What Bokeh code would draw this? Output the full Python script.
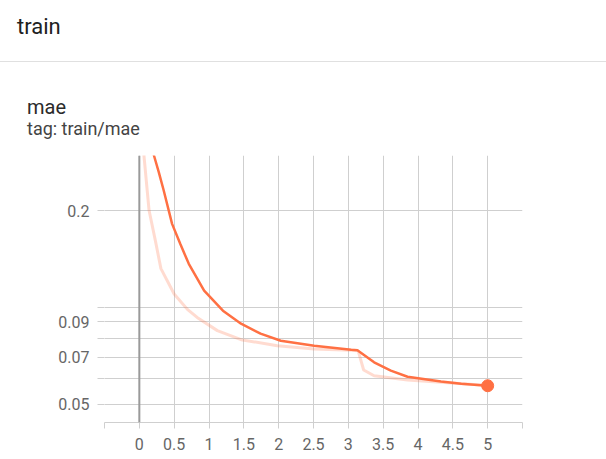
from bokeh.plotting import figure
from bokeh.models import Div, FixedTicker, Span, Range1d
from bokeh.layouts import column
from bokeh.embed import file_html
from bokeh.resources import INLINE

# ---- data ----
smooth_x = [0.15, 0.21, 0.28, 0.35, 0.47, 0.59, 0.71, 0.93, 1.20, 1.46, 1.74,
            2.03, 2.51, 3.04, 3.13, 3.37, 3.61, 3.85, 4.33, 4.62, 5.00]
smooth_y = [0.36, 0.2967, 0.263, 0.2309, 0.1818, 0.157, 0.1365, 0.1127, 0.0976,
            0.0889, 0.0828, 0.0787, 0.0759, 0.0738, 0.0735, 0.0674, 0.0635, 0.0608,
            0.0588, 0.0578, 0.0570]

raw_x = [0.05, 0.066, 0.14, 0.23, 0.31, 0.50, 0.69, 0.83, 1.12, 1.46, 1.98, 2.51,
         3.04, 3.14, 3.22, 3.37, 3.85, 4.33, 4.90, 5.00]
raw_y = [0.34, 0.2967, 0.2000, 0.1612, 0.1319, 0.1100, 0.0985, 0.0930, 0.0846,
         0.0793, 0.0759, 0.0742, 0.0735, 0.0733, 0.0638, 0.0612, 0.0594, 0.0584,
         0.0573, 0.0571]

x_ticks = [-0.5, 0, 0.5, 1, 1.5, 2, 2.5, 3, 3.5, 4, 4.5, 5, 5.5]
x_labels = ["", "0", "0.5", "1", "1.5", "2", "2.5", "3", "3.5", "4", "4.5", "5", ""]
y_ticks = [0.05, 0.07, 0.09, 0.2]
y_labels = ["0.05", "0.07", "0.09", "0.2"]
y_minor = [0.06, 0.08, 0.1]

page_title = "train"
card_title = "mae"
card_tag = "tag: train/mae"

ORANGE = "#ff7043"
GRID = "#cfcfcf"
FONT = "Roboto"

header = Div(
    width=606, height=155, margin=0,
    styles={"overflow": "visible"},
    text=f"""
<div style="position:relative;width:606px;height:155px;font-family:Roboto;">
  <div style="position:absolute;left:17px;top:11px;font-size:22px;color:#212121;white-space:nowrap;">{page_title}</div>
  <div style="position:absolute;left:0px;top:61px;width:606px;height:1px;background:#e0e0e0;"></div>
  <div style="position:absolute;left:27px;top:93px;font-size:20px;color:#2b2b2b;white-space:nowrap;">{card_title}</div>
  <div style="position:absolute;left:27px;top:116px;font-size:18px;color:#444444;white-space:nowrap;">{card_tag}</div>
</div>
""")

p = figure(width=600, height=303, y_axis_type="log",
           x_range=Range1d(-0.5, 5.5), y_range=Range1d(0.0438, 0.2967),
           output_backend="svg", toolbar_location=None,
           min_border_left=104, min_border_right=78,
           min_border_top=0, min_border_bottom=36, margin=0)
p.outline_line_color = None
p.background_fill_color = "white"
p.border_fill_color = "white"

# x axis
p.xaxis.ticker = FixedTicker(ticks=x_ticks, minor_ticks=[])
p.xaxis.major_label_overrides = {t: l for t, l in zip(x_ticks, x_labels)}
p.xaxis.axis_line_color = GRID
p.xaxis.major_tick_line_color = GRID
p.xaxis.major_tick_out = 6
p.xaxis.major_tick_in = 0
p.xaxis.minor_tick_line_color = None
p.xaxis.major_label_standoff = 9
p.xaxis.major_label_text_font = FONT
p.xaxis.major_label_text_font_size = "16px"
p.xaxis.major_label_text_color = "#666666"

# y axis
p.yaxis.ticker = FixedTicker(ticks=y_ticks, minor_ticks=y_minor)
p.yaxis.major_label_overrides = {t: l for t, l in zip(y_ticks, y_labels)}
p.yaxis.axis_line_color = None
p.yaxis.major_tick_line_color = GRID
p.yaxis.minor_tick_line_color = GRID
p.yaxis.major_tick_out = 7
p.yaxis.major_tick_in = 0
p.yaxis.minor_tick_out = 7
p.yaxis.minor_tick_in = 0
p.yaxis.major_label_standoff = 8
p.yaxis.major_label_text_font = FONT
p.yaxis.major_label_text_font_size = "16px"
p.yaxis.major_label_text_color = "#666666"

p.xgrid.grid_line_color = GRID
p.ygrid.grid_line_color = GRID
p.ygrid.minor_grid_line_color = GRID

p.add_layout(Span(location=0, dimension="height", line_color="#9a9a9a", line_width=2))

p.line(raw_x, raw_y, line_color=ORANGE, line_alpha=0.25, line_width=3)
p.line(smooth_x, smooth_y, line_color=ORANGE, line_width=2.5)
p.scatter([smooth_x[-1]], [smooth_y[-1]], size=12, fill_color=ORANGE, line_color=ORANGE)

layout = column(header, p, spacing=0, margin=0)
open("out.html", "w").write(file_html(layout, INLINE))
